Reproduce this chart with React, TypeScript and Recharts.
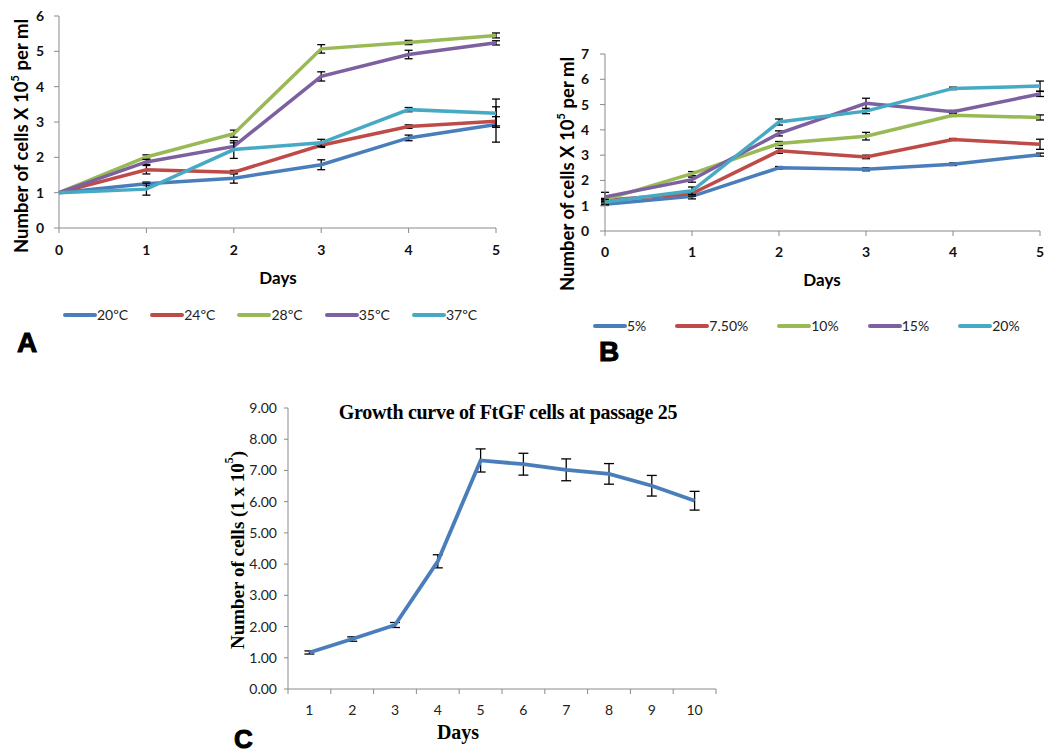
import { LineChart, Line, XAxis, YAxis, ErrorBar, Legend, Label } from 'recharts';

const daysAB = [0, 1, 2, 3, 4, 5];
const ticksA = [0, 1, 2, 3, 4, 5, 6];
const ticksB = [0, 1, 2, 3, 4, 5, 6, 7];

// panel A: temperature
const tempNames = ['20ºC', '24ºC', '28ºC', '35ºC', '37ºC'];
const t20 = [1, 1.25, 1.41, 1.79, 2.55, 2.93];
const t24 = [1, 1.65, 1.58, 2.34, 2.87, 3.02];
const t28 = [1, 2.01, 2.67, 5.07, 5.25, 5.45];
const t35 = [1, 1.87, 2.31, 4.29, 4.91, 5.24];
const t37 = [1, 1.1, 2.22, 2.41, 3.35, 3.25];
const t20Err = [0, 0.05, 0.14, 0.14, 0.08, 0.5];
const t24Err = [0, 0.12, 0.05, 0.06, 0.05, 0.13];
const t28Err = [0, 0.06, 0.1, 0.12, 0.06, 0.07];
const t35Err = [0, 0.07, 0.1, 0.13, 0.12, 0.06];
const t37Err = [0, 0.17, 0.25, 0.1, 0.06, 0.4];

// panel B: serum concentration
const serumNames = ['5%', '7.50%', '10%', '15%', '20%'];
const s5 = [1.06, 1.37, 2.5, 2.44, 2.64, 3.02];
const s75 = [1.22, 1.48, 3.17, 2.93, 3.62, 3.43];
const s10 = [1.24, 2.27, 3.46, 3.75, 4.58, 4.49];
const s15 = [1.35, 2.03, 3.86, 5.05, 4.72, 5.42];
const s20 = [1.15, 1.59, 4.31, 4.74, 5.64, 5.73];
const s5Err = [0.05, 0.1, 0.05, 0.06, 0.05, 0.06];
const s75Err = [0.05, 0.1, 0.1, 0.07, 0.04, 0.2];
const s10Err = [0.05, 0.08, 0.08, 0.15, 0.05, 0.1];
const s15Err = [0.18, 0.1, 0.1, 0.2, 0.05, 0.1];
const s20Err = [0.1, 0.15, 0.12, 0.1, 0.05, 0.2];

// panel C: passage 25
const daysC = [1, 2, 3, 4, 5, 6, 7, 8, 9, 10];
const ticksC = [0, 1, 2, 3, 4, 5, 6, 7, 8, 9];
const cells = [1.17, 1.6, 2.05, 4.09, 7.32, 7.2, 7.02, 6.89, 6.51, 6.03];
const cellsErr = [0.05, 0.07, 0.08, 0.21, 0.37, 0.35, 0.35, 0.33, 0.33, 0.3];

const colors = ['#4A7EBB', '#BE4B48', '#98B954', '#7D60A0', '#46AAC5'];
const axisGray = '#8a8a8a';
const sans = 'Lato, "Open Sans", sans-serif';
const serif = '"Liberation Serif", "Times New Roman", serif';

const tempData = daysAB.map((day, i) => ({
  day,
  v0: t20[i], e0: t20Err[i],
  v1: t24[i], e1: t24Err[i],
  v2: t28[i], e2: t28Err[i],
  v3: t35[i], e3: t35Err[i],
  v4: t37[i], e4: t37Err[i],
}));

const serumData = daysAB.map((day, i) => ({
  day,
  v0: s5[i], e0: s5Err[i],
  v1: s75[i], e1: s75Err[i],
  v2: s10[i], e2: s10Err[i],
  v3: s15[i], e3: s15Err[i],
  v4: s20[i], e4: s20Err[i],
}));

const passageData = daysC.map((day, i) => ({ day, cells: cells[i], err: cellsErr[i] }));

const boldTick = { fontFamily: sans, fontSize: 14, fontWeight: 700, fill: '#111' };

function yTitle(x: number, y: number, before: string, after: string, font: string, size: number) {
  return () => (
    <text
      x={x}
      y={y}
      transform={`rotate(-90 ${x} ${y})`}
      textAnchor="middle"
      dominantBaseline="central"
      fontFamily={font}
      fontSize={size}
      fontWeight={700}
      fill="#000"
    >
      {before}
      <tspan dy={-size * 0.4} fontSize={size * 0.62}>5</tspan>
      <tspan dy={size * 0.4}>{after}</tspan>
    </text>
  );
}

function xTitle(x: number, y: number, font: string, size: number) {
  return () => (
    <text x={x} y={y} textAnchor="middle" dominantBaseline="central" fontFamily={font} fontSize={size} fontWeight={700} fill="#000">
      Days
    </text>
  );
}

function legendContent(names: string[], gap: number) {
  return (props: any) => {
    const items = [...(props.payload || [])].sort((a: any, b: any) => names.indexOf(a.value) - names.indexOf(b.value));
    return (
      <div style={{ display: 'flex', gap, alignItems: 'center', fontFamily: sans, fontSize: 14, color: '#222' }}>
        {items.map((p: any) => (
          <div key={p.value} style={{ display: 'flex', alignItems: 'center' }}>
            <span style={{ display: 'inline-block', width: 34, height: 4, borderRadius: 2, background: p.color }} />
            <span>{p.value}</span>
          </div>
        ))}
      </div>
    );
  };
}

function seriesLines(names: string[]) {
  return names.map((name, i) => (
    <Line
      key={name}
      dataKey={`v${i}`}
      name={name}
      stroke={colors[i]}
      strokeWidth={3.5}
      dot={false}
      activeDot={false}
      isAnimationActive={false}
    >
      <ErrorBar dataKey={`e${i}`} direction="y" width={4} stroke="#000" strokeWidth={1.3} isAnimationActive={false} />
    </Line>
  ));
}

// chart C box
const C_WIDTH = 560;
const C_HEIGHT = 383;
const C_MARGIN = { top: 38, right: 44, bottom: 34, left: 0 };
const C_YAXIS_W = 88;
const C_PLOT_W = C_WIDTH - C_MARGIN.left - C_MARGIN.right - C_YAXIS_W;

// Excel-style category tick: label in the middle of the band, tick marks on the band edges
const C_TICK_SIZE = 5;
const C_TICK_MARGIN = 11;
function CategoryTick(props: any) {
  const { x, y, payload } = props;
  const band = C_PLOT_W / daysC.length;
  const axisY = y - C_TICK_SIZE - C_TICK_MARGIN;
  const left = x - band / 2;
  const right = x + band / 2;
  const isLast = payload.value === daysC[daysC.length - 1];
  return (
    <g>
      <line x1={left} x2={left} y1={axisY} y2={axisY + C_TICK_SIZE} stroke={axisGray} strokeWidth={1} />
      {isLast && <line x1={right} x2={right} y1={axisY} y2={axisY + C_TICK_SIZE} stroke={axisGray} strokeWidth={1} />}
      <text x={x} y={y} dy="0.71em" textAnchor="middle" fontFamily={sans} fontSize={14} fill="#222">
        {payload.value}
      </text>
    </g>
  );
}

const panelLetter = (left: number, top: number, ch: string, size: number) => (
  <div
    style={{
      position: 'absolute',
      left,
      top,
      fontFamily: '"Liberation Sans", Arial, sans-serif',
      fontWeight: 900,
      fontSize: size,
      lineHeight: '20px',
      WebkitTextStroke: '1px #000',
    }}
  >
    {ch}
  </div>
);

export default function App() {
  return (
    <div style={{ position: 'absolute', left: 0, top: 0, width: 1055, height: 753, background: '#fff', overflow: 'hidden' }}>
      <div style={{ position: 'absolute', left: 0, top: 0 }}>
        <LineChart width={530} height={340} data={tempData} margin={{ top: 16, right: 34, bottom: 82, left: 0 }}>
          <XAxis
            dataKey="day"
            type="number"
            domain={[0, 5]}
            ticks={daysAB}
            height={30}
            stroke={axisGray}
            tick={boldTick}
            tickSize={5}
            tickMargin={12}
          >
            <Label content={xTitle(278, 277, sans, 17)} />
          </XAxis>
          <YAxis type="number" domain={[0, 6]} ticks={ticksA} width={59} stroke={axisGray} tick={boldTick} tickSize={5} tickMargin={10}>
            <Label content={yTitle(21, 136, 'Number of cells X 10', ' per ml', sans, 18.5)} />
          </YAxis>
          {seriesLines(tempNames)}
          <Legend
            align="center"
            verticalAlign="middle"
            layout="horizontal"
            content={legendContent(tempNames, 22)}
            wrapperStyle={{ left: 63, top: 306, width: 460 }}
          />
        </LineChart>
      </div>

      <div style={{ position: 'absolute', left: 540, top: 0 }}>
        <LineChart width={515} height={360} data={serumData} margin={{ top: 54, right: 15, bottom: 99, left: 0 }}>
          <XAxis
            dataKey="day"
            type="number"
            domain={[0, 5]}
            ticks={daysAB}
            height={30}
            stroke={axisGray}
            tick={boldTick}
            tickSize={5}
            tickMargin={11}
          >
            <Label content={xTitle(282, 279, sans, 17)} />
          </XAxis>
          <YAxis type="number" domain={[0, 7]} ticks={ticksB} width={65} stroke={axisGray} tick={boldTick} tickSize={5} tickMargin={11}>
            <Label content={yTitle(27, 174, 'Number of cells X 10', ' per ml', sans, 18.5)} />
          </YAxis>
          {seriesLines(serumNames)}
          <Legend
            align="center"
            verticalAlign="middle"
            layout="horizontal"
            content={legendContent(serumNames, 29)}
            wrapperStyle={{ left: 53, top: 317, width: 460 }}
          />
        </LineChart>
      </div>

      <div style={{ position: 'absolute', left: 200, top: 370 }}>
        <LineChart width={C_WIDTH} height={C_HEIGHT} data={passageData} margin={C_MARGIN}>
          <text x={308} y={42} textAnchor="middle" dominantBaseline="central" fontFamily={serif} fontSize={20} fontWeight={700} fill="#000" letterSpacing={-0.3}>
            Growth curve of FtGF cells at passage 25
          </text>
          <XAxis
            dataKey="day"
            type="number"
            domain={[0.5, 10.5]}
            ticks={daysC}
            interval={0}
            height={30}
            stroke={axisGray}
            tickLine={false}
            tick={CategoryTick}
            tickSize={C_TICK_SIZE}
            tickMargin={C_TICK_MARGIN}
          >
            <Label content={xTitle(258, 362, serif, 20)} />
          </XAxis>
          <YAxis
            type="number"
            domain={[0, 9]}
            ticks={ticksC}
            width={C_YAXIS_W}
            stroke={axisGray}
            tick={{ fontFamily: sans, fontSize: 14, fill: '#222' }}
            tickSize={4}
            tickMargin={7}
            tickFormatter={(v: number) => v.toFixed(2)}
          >
            <Label content={yTitle(37, 180, 'Number of cells (1 x 10', ')', serif, 19)} />
          </YAxis>
          <Line
            dataKey="cells"
            stroke={colors[0]}
            strokeWidth={3.8}
            dot={false}
            activeDot={false}
            isAnimationActive={false}
          >
            <ErrorBar dataKey="err" direction="y" width={5} stroke="#000" strokeWidth={1.3} isAnimationActive={false} />
          </Line>
        </LineChart>
      </div>

      {panelLetter(17, 333, 'A', 28)}
      {panelLetter(599, 342, 'B', 28)}
      {panelLetter(234, 729, 'C', 26)}
    </div>
  );
}
